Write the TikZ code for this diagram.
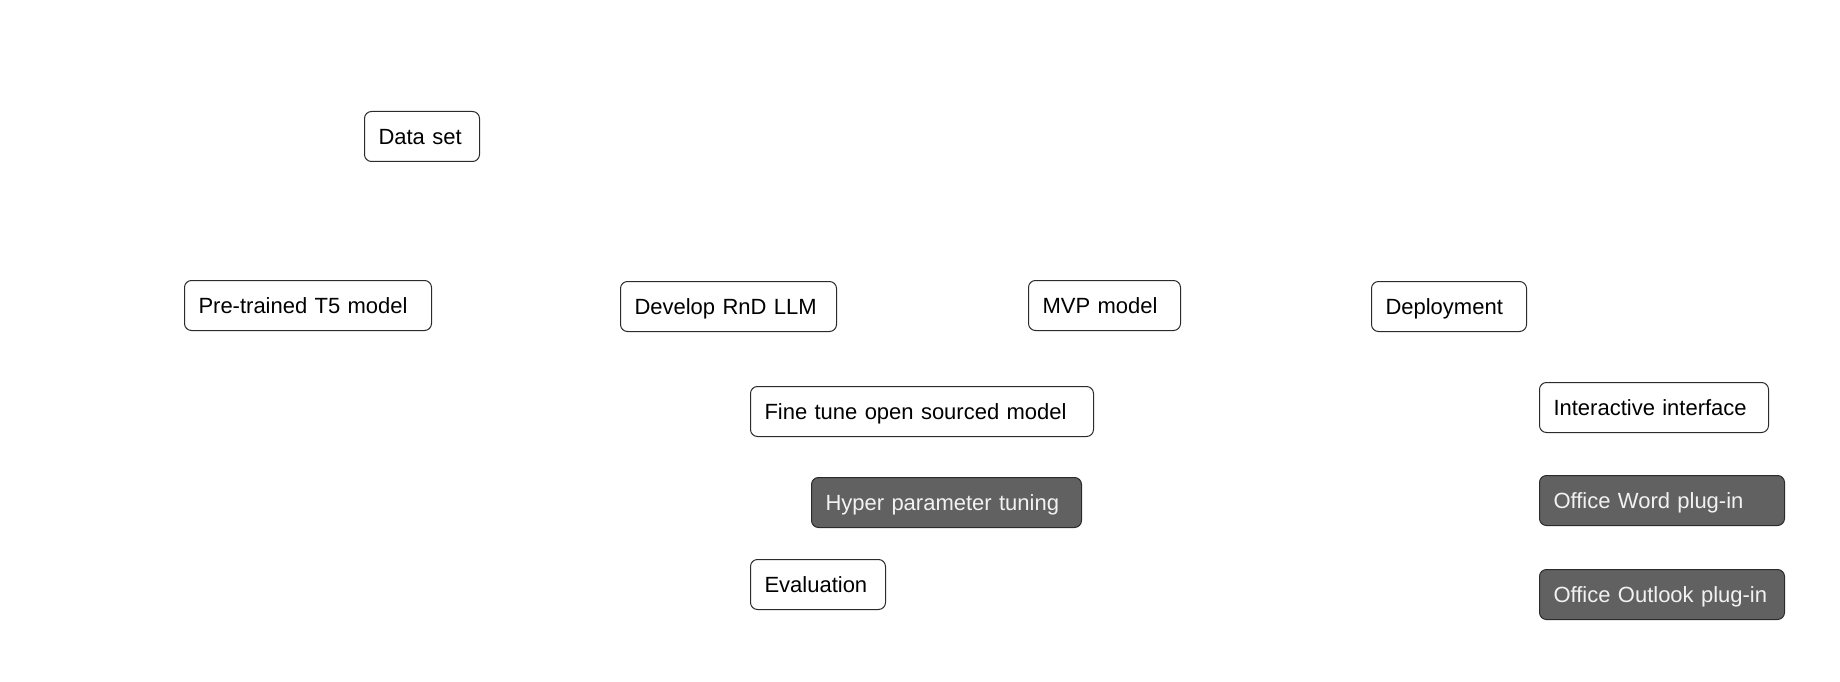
\documentclass[tikz,border=0pt]{standalone}
\usepackage{fontspec}
\setmainfont{Liberation Sans}
\definecolor{edgecol}{HTML}{2B2B2B}
\definecolor{darkfill}{HTML}{616161}
\definecolor{lighttext}{HTML}{F2F2F2}
\tikzset{
  box/.style={draw=edgecol, line width=1pt, rounded corners=7pt, anchor=north west,
    inner xsep=14pt, inner ysep=0pt, align=left, minimum height=50pt,
    font=\fontsize{22}{26}\selectfont, text height=16pt, text depth=0pt, fill=white, text=black},
  darkbox/.style={box, fill=darkfill, text=lighttext}
}
\newcommand{\bx}[5]{\node[#1, minimum width=#4pt, text width=#4pt-28pt] (#2) at #3 {#5};}
\begin{document}
\begin{tikzpicture}[x=1pt,y=-1pt]
\useasboundingbox (0,0) rectangle (1840,682);
\bx{box}{data}{(364,111)}{115}{Data set}
\bx{box}{pre}{(184,280)}{247}{Pre-trained T5 model}
\bx{box}{dev}{(620,281)}{216}{Develop RnD LLM}
\bx{box}{mvp}{(1028,280)}{152}{MVP model}
\bx{box}{dep}{(1371,281)}{155}{Deployment}
\bx{box}{fine}{(750,386)}{343}{Fine tune open sourced model}
\bx{darkbox}{hyper}{(811,477)}{270}{Hyper parameter tuning}
\bx{box}{eval}{(750,559)}{135}{Evaluation}
\bx{box}{inter}{(1539,382)}{229}{Interactive interface}
\bx{darkbox}{word}{(1539,475)}{245}{Office Word plug-in}
\bx{darkbox}{outlook}{(1539,569)}{245}{Office Outlook plug-in}
\end{tikzpicture}
\end{document}
